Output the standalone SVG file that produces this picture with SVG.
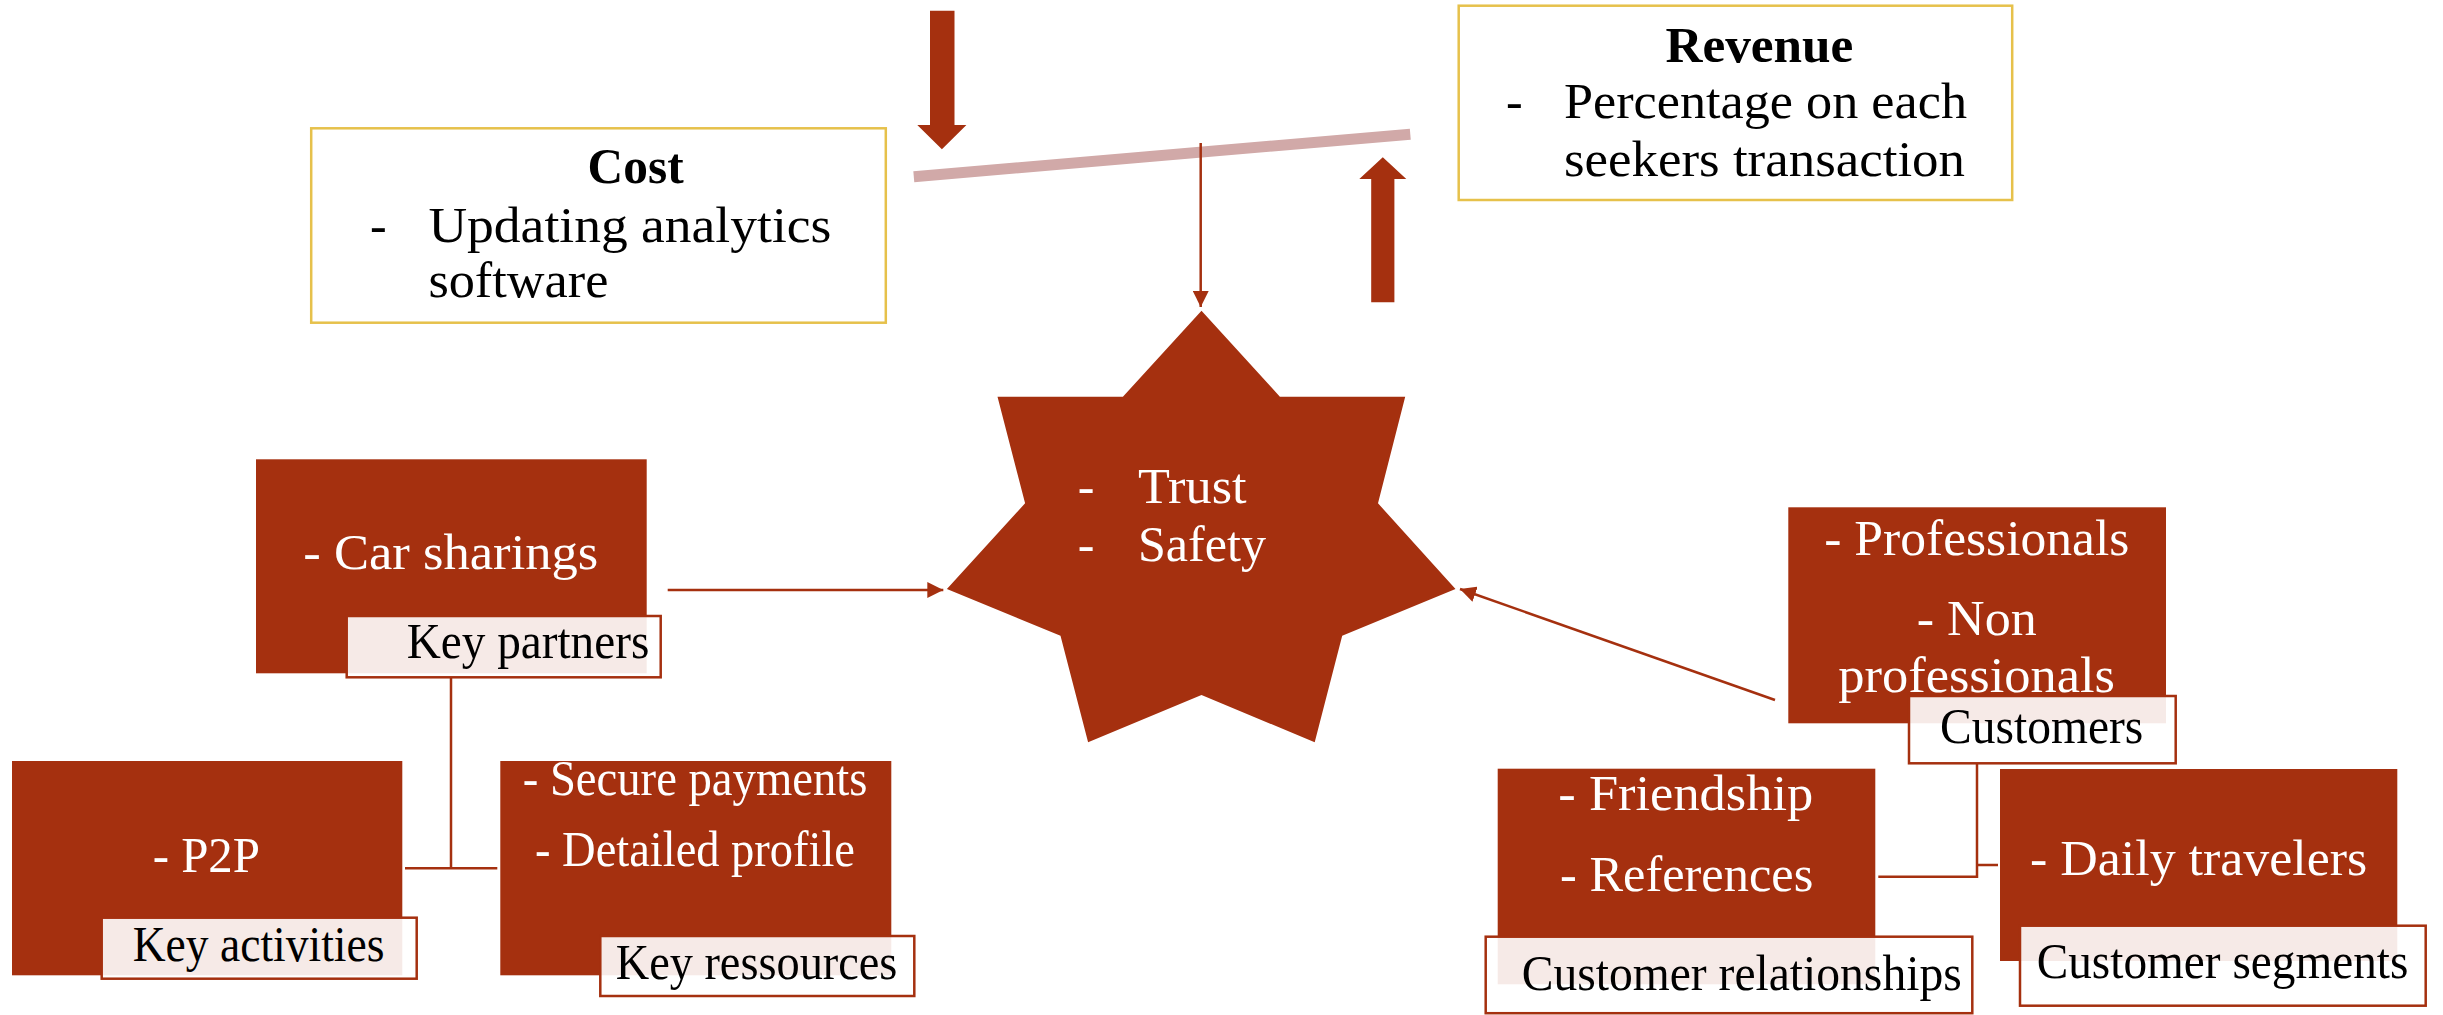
<svg xmlns="http://www.w3.org/2000/svg" width="2443" height="1015" viewBox="0 0 2443 1015">
<style>
.box{fill:#A5300F}
.lbl{fill:#fff;fill-opacity:0.9;stroke:#A5300F;stroke-width:2.5}
.ybox{fill:#fff;stroke:#E6C14B;stroke-width:2.5}
.t{font-family:"Liberation Serif","Times New Roman",serif;font-size:50px}
.b{font-weight:bold}
.w{fill:#fff}
.k{fill:#000}
.conn{stroke:#A5300F;stroke-width:2.5;fill:none}
.fat{fill:#A5300F}
</style>
<defs>
<marker id="ah" markerUnits="userSpaceOnUse" markerWidth="17" markerHeight="16" refX="16" refY="8" orient="auto">
<path d="M0,0 L16,8 L0,16 z" fill="#A5300F"/>
</marker>
</defs>
<rect width="2443" height="1015" fill="#fff"/>

<g id="balance">
<line x1="913.8" y1="176.7" x2="1410.3" y2="134.2" stroke="#D1A9A8" stroke-width="11"/>
<path class="fat" d="M930,10.7 H954.5 V125 H966.4 L941.9,149.3 L917.3,125 H930 Z"/>
<path class="fat" d="M1371.2,302.3 H1394.4 V179 H1406.3 L1382.8,157.3 L1359.3,179 H1371.2 Z"/>
</g>

<g id="connectors">
<line class="conn" x1="1200.7" y1="143" x2="1200.7" y2="307" marker-end="url(#ah)"/>
<line class="conn" x1="667.7" y1="590" x2="943.3" y2="590" marker-end="url(#ah)"/>
<line class="conn" x1="1775" y1="700" x2="1460" y2="589" marker-end="url(#ah)"/>
<path class="conn" d="M451,677 V868.3 M405,868.3 H497.3"/>
<path class="conn" d="M1977,763 V876.7 H1878.3 M1977,865 H1998"/>
</g>

<g id="cost">
<rect class="ybox" x="311.2" y="128.3" width="574.6" height="194.4"/>
<text class="t b k" x="587.6" y="183.3" textLength="96" lengthAdjust="spacingAndGlyphs">Cost</text>
<text class="t k" x="370" y="241.7">-</text>
<text class="t k" x="428.4" y="241.7" textLength="403" lengthAdjust="spacingAndGlyphs">Updating analytics</text>
<text class="t k" x="428.4" y="296.7" textLength="180" lengthAdjust="spacingAndGlyphs">software</text>
</g>

<g id="revenue">
<rect class="ybox" x="1458.7" y="5.7" width="553.5" height="194.3"/>
<text class="t b k" x="1665.4" y="61.7" textLength="188" lengthAdjust="spacingAndGlyphs">Revenue</text>
<text class="t k" x="1506" y="118.3">-</text>
<text class="t k" x="1564" y="118.3" textLength="403" lengthAdjust="spacingAndGlyphs">Percentage on each</text>
<text class="t k" x="1564" y="176" textLength="401" lengthAdjust="spacingAndGlyphs">seekers transaction</text>
</g>

<g id="value">
<polygon class="box" points="1201.5,310.7 1279.9,396.7 1405.2,396.7 1378,503.3 1455.5,589 1342.2,635.7 1314.7,742.3 1201.5,695 1088.1,742.3 1060.5,635.7 946.9,589 1025.1,503.3 997.5,396.7 1122.9,396.7"/>
<text class="t w" x="1077.7" y="503.3">-</text>
<text class="t w" x="1138" y="503.3" textLength="108.5" lengthAdjust="spacingAndGlyphs">Trust</text>
<text class="t w" x="1077.7" y="560.7">-</text>
<text class="t w" x="1138" y="560.7" textLength="128" lengthAdjust="spacingAndGlyphs">Safety</text>
</g>

<g id="key-partners">
<rect class="box" x="256" y="459.3" width="390.7" height="214"/>
<text class="t w" x="303.3" y="569.3" textLength="295" lengthAdjust="spacingAndGlyphs">- Car sharings</text>
<rect class="lbl" x="346.7" y="616" width="314" height="61.3"/>
<text class="t k" x="406.7" y="658.3" textLength="242.6" lengthAdjust="spacingAndGlyphs">Key partners</text>
</g>

<g id="key-activities">
<rect class="box" x="12" y="761" width="390.3" height="214.3"/>
<text class="t w" x="152.7" y="872.3" textLength="107.3" lengthAdjust="spacingAndGlyphs">- P2P</text>
<rect class="lbl" x="101.7" y="917.7" width="315" height="61"/>
<text class="t k" x="132.7" y="961" textLength="251.7" lengthAdjust="spacingAndGlyphs">Key activities</text>
</g>

<g id="key-resources">
<rect class="box" x="500.3" y="761" width="391" height="214.3"/>
<text class="t w" x="522.7" y="795" textLength="344.7" lengthAdjust="spacingAndGlyphs">- Secure payments</text>
<text class="t w" x="535" y="865.7" textLength="320" lengthAdjust="spacingAndGlyphs">- Detailed profile</text>
<rect class="lbl" x="600.3" y="936" width="314" height="60"/>
<text class="t k" x="615.7" y="979" textLength="281.7" lengthAdjust="spacingAndGlyphs">Key ressources</text>
</g>

<g id="customers">
<rect class="box" x="1788.3" y="507.3" width="377.7" height="216"/>
<text class="t w" x="1824.3" y="555" textLength="305" lengthAdjust="spacingAndGlyphs">- Professionals</text>
<text class="t w" x="1916.7" y="635" textLength="120" lengthAdjust="spacingAndGlyphs">- Non</text>
<text class="t w" x="1838.3" y="691.7" textLength="276.7" lengthAdjust="spacingAndGlyphs">professionals</text>
<rect class="lbl" x="1909" y="696" width="266.7" height="67.3"/>
<text class="t k" x="1940" y="743.3" textLength="203.3" lengthAdjust="spacingAndGlyphs">Customers</text>
</g>

<g id="customer-relationships">
<rect class="box" x="1497.7" y="768.7" width="377.6" height="215.6"/>
<text class="t w" x="1558.3" y="810" textLength="255" lengthAdjust="spacingAndGlyphs">- Friendship</text>
<text class="t w" x="1560" y="891" textLength="253.3" lengthAdjust="spacingAndGlyphs">- References</text>
<rect class="lbl" x="1485.7" y="936.7" width="486.6" height="76.5"/>
<text class="t k" x="1521.7" y="990" textLength="440" lengthAdjust="spacingAndGlyphs">Customer relationships</text>
</g>

<g id="customer-segments">
<rect class="box" x="2000" y="769" width="397.3" height="192"/>
<text class="t w" x="2030" y="875" textLength="337.3" lengthAdjust="spacingAndGlyphs">- Daily travelers</text>
<rect class="lbl" x="2020" y="925.7" width="405.7" height="80"/>
<text class="t k" x="2036.7" y="977.7" textLength="371.7" lengthAdjust="spacingAndGlyphs">Customer segments</text>
</g>
</svg>
